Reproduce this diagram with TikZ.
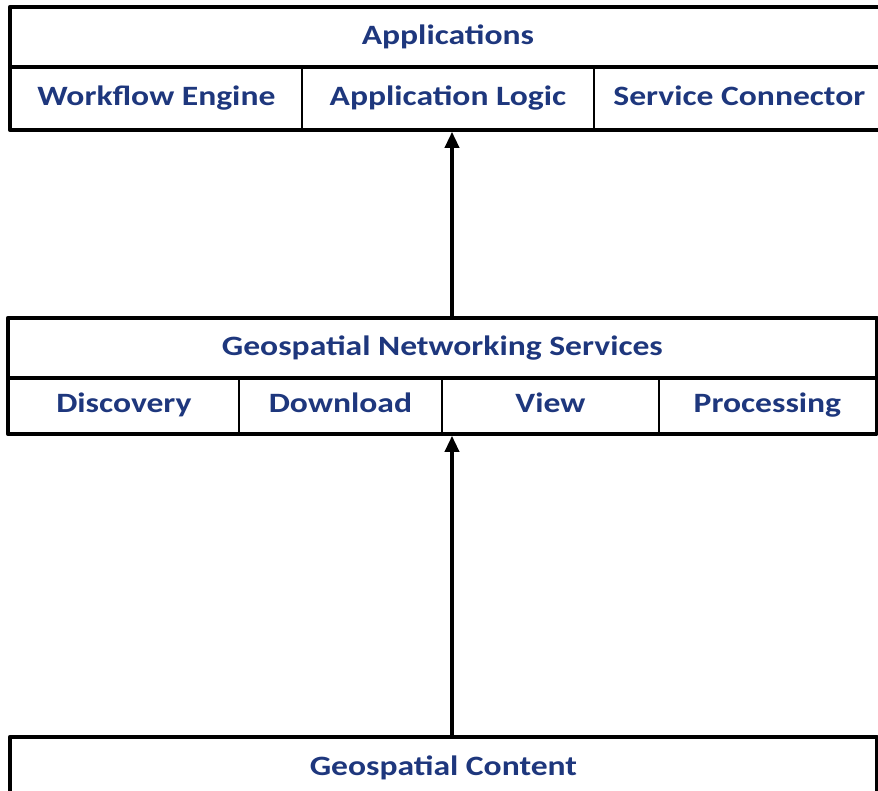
\documentclass[tikz,border=0pt]{standalone}
\usepackage{fontspec}
\setmainfont{Carlito}[FakeStretch=1.2]
\usetikzlibrary{arrows.meta}
\definecolor{txtblue}{RGB}{30,55,125}
\begin{document}
\begin{tikzpicture}[x=1pt, y=-1pt, font=\fontsize{28}{34}\selectfont\bfseries, line join=round,
    cell/.style={draw, line width=1.8pt, text=txtblue, inner sep=0pt, anchor=north west,
      text height=16pt, text depth=0pt},
    frame/.style={line width=4.5pt},
    >={Triangle[length=16pt,width=14pt]}]
    \useasboundingbox (0,0) rectangle (878,791);
    \coordinate (axis) at (452,0);
    % applications layer
    \node[cell, minimum width=874, minimum height=58] (apps) at (10,7) {Applications};
    \node[cell, minimum width=291, minimum height=63] (wf) at (10,65) {Workflow Engine};
    \node[cell, minimum width=292, minimum height=63] (al) at (301,65) {Application Logic};
    \node[cell, minimum width=291, minimum height=63] (sc) at (593,65) {Service Connector};
    \draw[frame] (apps.north west) rectangle (sc.south east);
    \draw[frame] (apps.south west) -- (apps.south east);
    % services layer
    \node[cell, minimum width=867, minimum height=58] (gns) at (8,318) {Geospatial Networking Services};
    \node[cell, minimum width=230, minimum height=56] (disc) at (8,376) {Discovery};
    \node[cell, minimum width=203, minimum height=56] (down) at (238,376) {Download};
    \node[cell, minimum width=217, minimum height=56] (view) at (441,376) {View};
    \node[cell, minimum width=217, minimum height=56] (proc) at (658,376) {Processing};
    \draw[frame] (gns.north west) rectangle (proc.south east);
    \draw[frame] (gns.south west) -- (gns.south east);
    % content layer
    \node[cell, minimum width=865, minimum height=60] (content) at (10,737) {Geospatial Content};
    \draw[frame] (content.south west) rectangle (content.north east);
    % arrows
    \draw[->, line width=3.5pt, shorten >=2pt] (gns.north -| axis) -- (al.south -| axis);
    \draw[->, line width=3.5pt, shorten >=2pt] (content.north -| axis) -- (view.south -| axis);
\end{tikzpicture}
\end{document}
